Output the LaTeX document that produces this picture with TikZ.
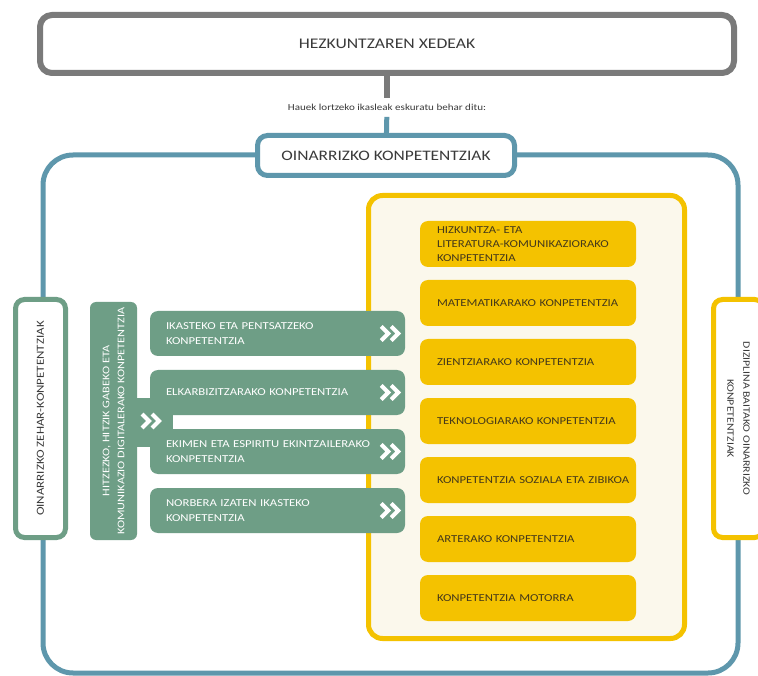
\documentclass[tikz,border=0pt]{standalone}
\usepackage{fontspec}
\setmainfont{Carlito}[FakeStretch=1.2]
\usetikzlibrary{positioning}
\definecolor{goalgray}{HTML}{7A7A7A}
\definecolor{okblue}{HTML}{5E97AC}
\definecolor{sage}{HTML}{6E9E86}
\definecolor{gold}{HTML}{F4C200}
\definecolor{cream}{HTML}{FBF8EC}
\definecolor{inkgray}{HTML}{3A3A3A}
\definecolor{inkbrown}{HTML}{45391A}
\newcommand*{\dblchev}[1]{%
  \draw[chevline] (#1) ++(-10,-7) -- ++(7,7) -- ++(-7,7);
  \draw[chevline] (#1) ++(0,-7) -- ++(7,7) -- ++(-7,7);}

\begin{document}
\begin{tikzpicture}[x=1pt,y=-1pt,node distance=59pt,on grid,
      goalbox/.style={draw=goalgray,line width=6pt,rounded corners=12pt,fill=white,
        minimum width=694pt,minimum height=58pt,text=inkgray,font=\fontsize{14.7}{17}\selectfont},
      okbox/.style={draw=okblue,line width=5pt,rounded corners=10pt,fill=white,
        minimum width=257pt,minimum height=40pt,text=inkgray,font=\fontsize{14.5}{17}\selectfont},
      ybox/.style={fill=gold,rounded corners=8pt,minimum height=46pt,text width=182pt,
        inner xsep=17pt,inner ysep=2pt,align=left,text=inkbrown,font=\fontsize{10.6}{14}\selectfont},
      gbox/.style={fill=sage,rounded corners=8pt,minimum height=45pt,text width=223pt,
        inner xsep=16pt,inner ysep=2pt,align=left,text=white,font=\fontsize{10.6}{14.5}\selectfont},
      sidebox/.style={line width=5pt,rounded corners=9pt,fill=white,minimum width=50pt,
        minimum height=238pt,text=inkgray,align=center},
      chevline/.style={draw=white,line width=4pt},
      linkline/.style={line width=#1,shorten >=-1pt,shorten <=-1pt}]
      \fill[white] (0,0) rectangle (758,676);
      \useasboundingbox (0,0) rectangle (758,676);
      % outer frame
      \draw[okblue,line width=5pt,rounded corners=30pt] (43,155) rectangle (738,673);
      \node[goalbox] (goal) at (387,44) {HEZKUNTZAREN XEDEAK};
      \node[inner ysep=7pt,text=inkgray,font=\fontsize{9.2}{11}\selectfont] (hint) at (387,107.5)
        {Hauek lortzeko ikasleak eskuratu behar ditu:};
      \node[okbox] (ok_box) at (386,155.5) {OINARRIZKO KONPETENTZIAK};
      \draw[goalgray,linkline=6pt] (goal) -- (hint);
      \draw[okblue,linkline=5pt] (hint) -- (ok_box);
      % disciplinary block
      \draw[gold,fill=cream,line width=5pt,rounded corners=14pt] (368.5,195.5) rectangle (684.5,638.5);
      \node[ybox] (y_1) at (528,244) {HIZKUNTZA- ETA\\LITERATURA-KOMUNIKAZIORAKO\\KONPETENTZIA};
      \node[ybox,below=of y_1] (y_2) {MATEMATIKARAKO KONPETENTZIA};
      \node[ybox,below=of y_2] (y_3) {ZIENTZIARAKO KONPETENTZIA};
      \node[ybox,below=of y_3] (y_4) {TEKNOLOGIARAKO KONPETENTZIA};
      \node[ybox,below=of y_4] (y_5) {\mbox{KONPETENTZIA SOZIALA ETA ZIBIKOA}};
      \node[ybox,below=of y_5] (y_6) {ARTERAKO KONPETENTZIA};
      \node[ybox,below=of y_6] (y_7) {KONPETENTZIA MOTORRA};
      % cross-curricular block
      \fill[sage] (130,398) rectangle (173,447);
      \node[fill=sage,rounded corners=6pt,minimum width=238pt,minimum height=47pt,align=center,
        text=white,rotate=90,font=\fontsize{10.2}{15}\selectfont] (bar) at (113.5,421)
        {HITZEZKO, HITZIK GABEKO ETA\\KOMUNIKAZIO DIGITALERAKO KONPETENTZIA};
      \node[gbox] (g_1) at (277.5,333.5) {IKASTEKO ETA PENTSATZEKO\\KONPETENTZIA};
      \node[gbox,below=of g_1] (g_2) {ELKARBIZITZARAKO KONPETENTZIA};
      \node[gbox,below=of g_2] (g_3) {EKIMEN ETA ESPIRITU EKINTZAILERAKO\\KONPETENTZIA};
      \node[gbox,below=of g_3] (g_4) {NORBERA IZATEN IKASTEKO\\KONPETENTZIA};
      \coordinate (link) at (152,421);
      \dblchev{link}
      \dblchev{[xshift=-14pt]g_1.east}
      \dblchev{[xshift=-14pt]g_2.east}
      \dblchev{[xshift=-14pt]g_3.east}
      \dblchev{[xshift=-14pt]g_4.east}
      % side labels
      \node[sidebox,draw=sage] (zehar) at (40.5,418.5) {};
      \node[rotate=90,text=inkgray,font=\fontsize{10.8}{13}\selectfont] at (zehar) {OINARRIZKO ZEHAR-KONPETENTZIAK};
      \node[sidebox,draw=gold] (dizip) at (738.5,418.5) {};
      \node[rotate=-90,align=center,text=inkgray,font=\fontsize{9.8}{16}\selectfont] at (dizip)
        {DIZIPLINA BAITAKO OINARRIZKO\\KONPETENTZIAK};
    \end{tikzpicture}
\end{document}
